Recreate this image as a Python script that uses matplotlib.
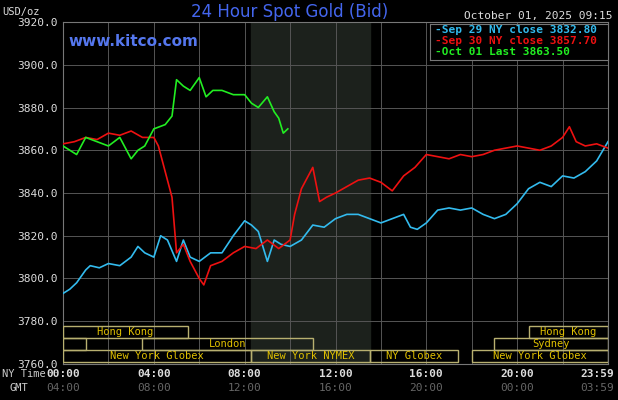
import matplotlib
matplotlib.use("Agg")
import matplotlib.pyplot as plt
from matplotlib.patches import Rectangle

blue_h = [0,0.3,0.6,1,1.2,1.6,2,2.5,3,3.3,3.6,4,4.3,4.6,5,5.3,5.6,6,6.5,7,7.5,8,8.3,8.6,9,9.3,9.6,10,10.5,11,11.5,12,12.5,13,13.5,14,14.5,15,15.3,15.6,16,16.5,17,17.5,18,18.5,19,19.5,20,20.5,21,21.5,22,22.5,23,23.5,24]
blue_v = [3793,3795,3798,3804,3806,3805,3807,3806,3810,3815,3812,3810,3820,3818,3808,3818,3810,3808,3812,3812,3820,3827,3825,3822,3808,3818,3816,3815,3818,3825,3824,3828,3830,3830,3828,3826,3828,3830,3824,3823,3826,3832,3833,3832,3833,3830,3828,3830,3835,3842,3845,3843,3848,3847,3850,3855,3864]

red_h = [0,0.5,1,1.5,2,2.5,3,3.5,4,4.2,4.5,4.8,5,5.3,5.6,6,6.2,6.5,7,7.5,8,8.5,9,9.5,10,10.2,10.5,10.8,11,11.3,11.6,12,12.5,13,13.5,14,14.5,15,15.5,16,16.5,17,17.5,18,18.5,19,19.5,20,20.5,21,21.5,22,22.3,22.6,23,23.5,24]
red_v = [3863,3864,3866,3865,3868,3867,3869,3866,3866,3862,3850,3838,3812,3816,3808,3800,3797,3806,3808,3812,3815,3814,3818,3814,3818,3830,3842,3848,3852,3836,3838,3840,3843,3846,3847,3845,3841,3848,3852,3858,3857,3856,3858,3857,3858,3860,3861,3862,3861,3860,3862,3866,3871,3864,3862,3863,3861]

green_h = [0,0.3,0.6,1,1.5,2,2.5,2.8,3,3.3,3.6,4,4.5,4.8,5,5.3,5.6,6,6.3,6.6,7,7.5,8,8.3,8.6,9,9.3,9.5,9.7,9.9]
green_v = [3862,3860,3858,3866,3864,3862,3866,3860,3856,3860,3862,3870,3872,3876,3893,3890,3888,3894,3885,3888,3888,3886,3886,3882,3880,3885,3878,3875,3868,3870]

sessions = [  # (row, start, end, label)
    (0, 0, 5.5, "Hong Kong"), (0, 20.5, 24, "Hong Kong"),
    (1, 0, 1.0, ""), (1, 3.5, 11.0, "London"), (1, 19.0, 24, "Sydney"),
    (2, 0, 8.3, "New York Globex"), (2, 8.3, 13.5, "New York NYMEX"),
    (2, 13.5, 17.4, "NY Globex"), (2, 18.0, 24, "New York Globex"),
]
row_y = [(3772, 3778), (3766.5, 3772), (3761, 3766.5)]

ny_ticks = [0, 4, 8, 12, 16, 20, 23.98]
ny_labels = ["00:00", "04:00", "08:00", "12:00", "16:00", "20:00", "23:59"]
gmt_labels = ["04:00", "08:00", "12:00", "16:00", "20:00", "00:00", "03:59"]

mono = "DejaVu Sans Mono"
fig = plt.figure(figsize=(6.18, 4), dpi=100, facecolor="black")
ax = fig.add_axes([63/618, 36/400, 545/618, 342/400], facecolor="black")
ax.set_xlim(0, 24)
ax.set_ylim(3760, 3920)
ax.axvspan(8.3, 13.5, color="#1c211c", zorder=0)
for h in range(0, 25, 2):
    ax.axvline(h, color="#555555", lw=0.7, zorder=1)
for v in range(3760, 3921, 20):
    ax.axhline(v, color="#555555", lw=0.7, zorder=1)
for s in ax.spines.values():
    s.set_color("#777777")
ax.set_yticks(range(3760, 3921, 20))
ax.set_yticklabels([f"{v}.0" for v in range(3760, 3921, 20)], family=mono, fontsize=8, color="#dddddd")
ax.set_xticks([])
ax.tick_params(length=0)

for r, a, b, lab in sessions:
    y0, y1 = row_y[r]
    ax.add_patch(Rectangle((a, y0), b - a, y1 - y0, fill=False, ec="#b8b070", lw=1, zorder=3))
    if lab:
        ax.text((a + b) / 2, (y0 + y1) / 2, lab, ha="center", va="center", family=mono, fontsize=7.5, color="#e0c000", zorder=4)

ax.plot(blue_h, blue_v, color="#33bbee", lw=1.2, zorder=5)
ax.plot(red_h, red_v, color="#ee1111", lw=1.2, zorder=5)
ax.plot(green_h, green_v, color="#22ee22", lw=1.2, zorder=6)

ax.text(0.01, 0.93, "www.kitco.com", transform=ax.transAxes, color="#5577ee", fontsize=11, fontweight="bold", family="DejaVu Sans")
fig.text(290/618, 1 - 12/400, "24 Hour Spot Gold (Bid)", color="#4466ee", fontsize=12, ha="center", va="center", family="DejaVu Sans")
fig.text(612/618, 1 - 16/400, "October 01, 2025 09:15", color="#dddddd", fontsize=8, ha="right", va="center", family=mono)
fig.text(2/618, 1 - 12/400, "USD/oz", color="#dddddd", fontsize=7.5, ha="left", va="center", family=mono)

# legend box
lax = fig.add_axes([430/618, 1 - 60/400, 178/618, 36/400], facecolor="black")
lax.set_xticks([]); lax.set_yticks([])
for s in lax.spines.values():
    s.set_color("#777777")
for i, (t, c) in enumerate([("-Sep 29 NY close 3832.80", "#33bbee"), ("-Sep 30 NY close 3857.70", "#ee1111"), ("-Oct 01 Last 3863.50", "#22ee22")]):
    lax.text(0.03, 0.83 - i * 0.31, t, color=c, fontsize=8, fontweight="bold", family=mono, va="center", transform=lax.transAxes)

for k, (t, l1, l2) in enumerate(zip(ny_ticks, ny_labels, gmt_labels)):
    last = k == len(ny_ticks) - 1
    xf = (614 if last else 63 + t / 24 * 545) / 618
    ha = "right" if last else "center"
    fig.text(xf, 1 - 374/400, l1, color="#dddddd", fontsize=8, fontweight="bold", ha=ha, va="center", family=mono)
    fig.text(xf, 1 - 388/400, l2, color="#666666", fontsize=8, ha=ha, va="center", family=mono)
fig.text(2/618, 1 - 374/400, "NY Time", color="#cccccc", fontsize=7.5, va="center", family=mono)
fig.text(10/618, 1 - 388/400, "GMT", color="#cccccc", fontsize=7.5, va="center", family=mono)

fig.savefig("out.png", dpi=100, facecolor="black")
